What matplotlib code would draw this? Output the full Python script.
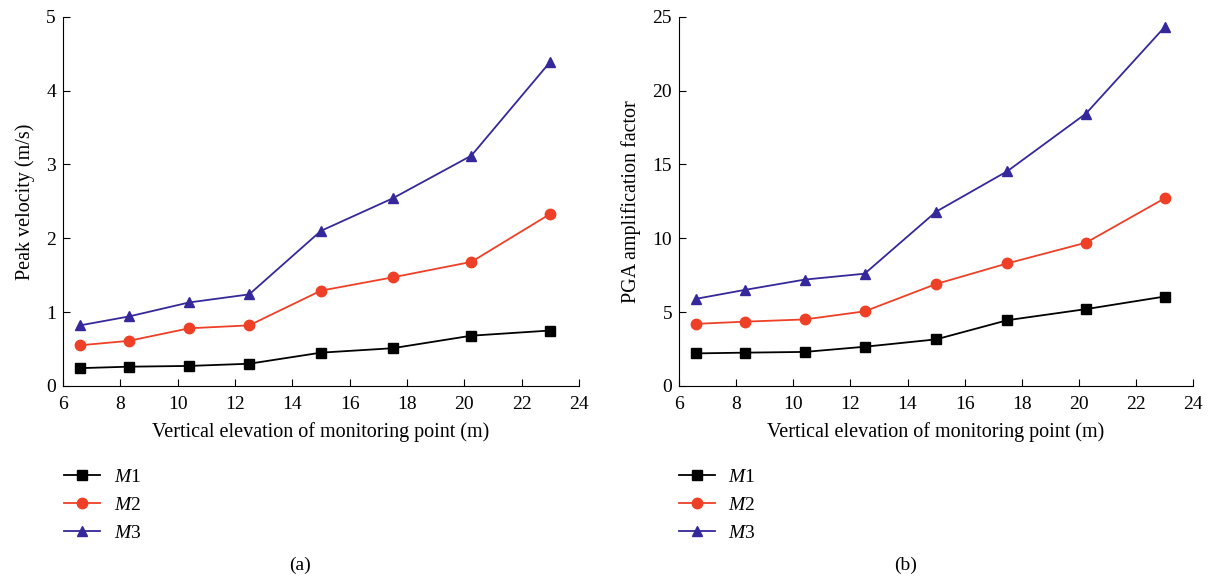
import matplotlib.pyplot as plt
import numpy as np

plt.rcParams['font.family'] = ['Liberation Serif', 'DejaVu Serif']
plt.rcParams['mathtext.fontset'] = 'custom'
plt.rcParams['mathtext.it'] = 'Liberation Serif:italic'
plt.rcParams['mathtext.rm'] = 'Liberation Serif'

elevation = [6.6, 8.3, 10.4, 12.5, 15.0, 17.5, 20.25, 23.0]

vel_m1 = [0.24, 0.26, 0.27, 0.30, 0.45, 0.51, 0.68, 0.75]
vel_m2 = [0.55, 0.61, 0.78, 0.82, 1.29, 1.47, 1.68, 2.33]
vel_m3 = [0.82, 0.94, 1.13, 1.24, 2.10, 2.54, 3.12, 4.39]

pga_m1 = [2.2, 2.25, 2.3, 2.65, 3.15, 4.45, 5.2, 6.05]
pga_m2 = [4.2, 4.35, 4.5, 5.05, 6.9, 8.3, 9.7, 12.7]
pga_m3 = [5.9, 6.5, 7.2, 7.6, 11.8, 14.55, 18.45, 24.3]

labels = ['$M$1', '$M$2', '$M$3']
colors = ['#000000', '#ee4027', '#34289a']
markers = ['s', 'o', '^']

fig = plt.figure(figsize=(12.1, 5.82), dpi=100)
ax1 = fig.add_axes([0.052, 0.337, 0.4264, 0.634])
ax2 = fig.add_axes([0.5612, 0.337, 0.4248, 0.634])

panels = [
    (ax1, [vel_m1, vel_m2, vel_m3], 'Peak velocity (m/s)', 5, 1, '(a)', 0.248, 0.053),
    (ax2, [pga_m1, pga_m2, pga_m3], 'PGA amplification factor', 25, 5, '(b)', 0.748, 0.561),
]

for ax, series, ylab, ymax, ystep, tag, sub_x, leg_x in panels:
    for s, lab, c, m in zip(series, labels, colors, markers):
        ax.plot(elevation, s, color=c, marker=m, markersize=7.5, lw=1.3, label=lab)
    ax.set_xlim(6, 24)
    ax.set_ylim(0, ymax)
    ax.set_xticks(np.arange(6, 25, 2))
    ax.set_yticks(np.arange(0, ymax + 0.1, ystep))
    ax.spines['top'].set_visible(False)
    ax.spines['right'].set_visible(False)
    ax.tick_params(direction='in', length=5, labelsize=14, pad=5)
    ax.tick_params(axis='x', pad=7)
    ax.set_xlabel('Vertical elevation of monitoring point (m)', fontsize=14.5, labelpad=7)
    ax.set_ylabel(ylab, fontsize=14.5, labelpad=8)
    h, l = ax.get_legend_handles_labels()
    fig.legend(h, l, loc='upper left', bbox_to_anchor=(leg_x, 0.195), frameon=False,
               fontsize=14, handlelength=1.85, handletextpad=0.7, labelspacing=0.53,
               borderaxespad=0, borderpad=0)
    fig.text(sub_x, 0.02, tag, ha='center', fontsize=14)

fig.savefig('out.png', dpi=100)
